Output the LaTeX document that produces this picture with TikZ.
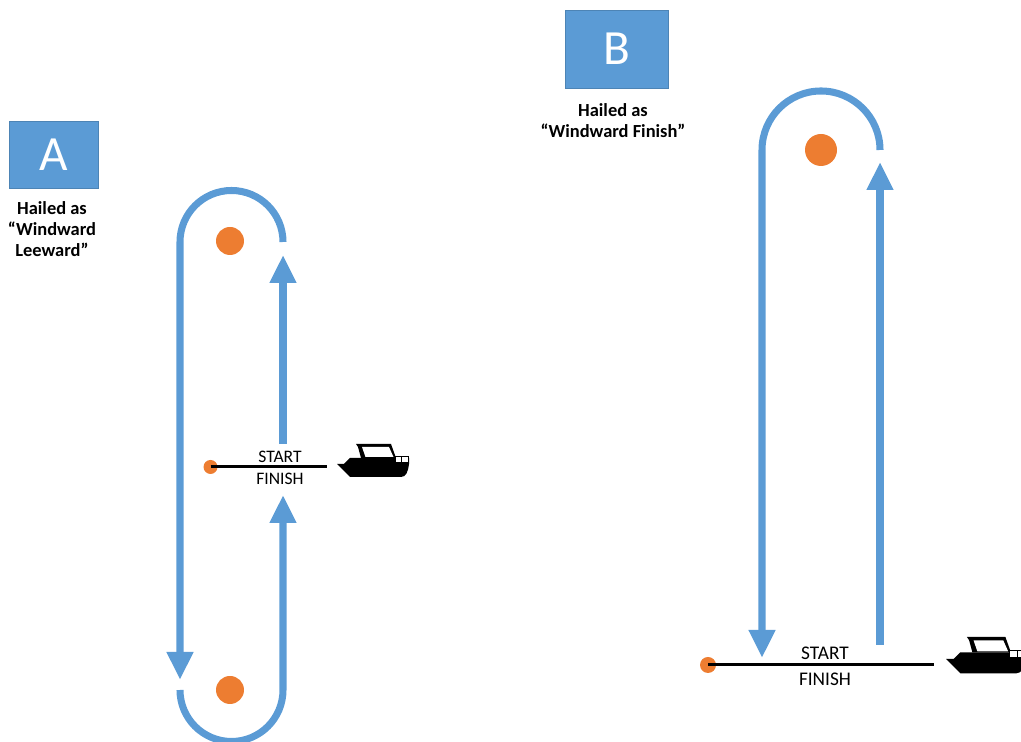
\documentclass[tikz,border=0pt]{standalone}
\usepackage{fontspec}
\setmainfont{Carlito}
\usetikzlibrary{arrows.meta}
\definecolor{course}{HTML}{5B9BD5}
\definecolor{buoy}{HTML}{ED7D31}
\begin{document}
\begin{tikzpicture}[
  x=0.02cm, y=0.02cm,
  tag/.style={fill=course, draw=course!85!black, line width=0.4pt, text=white, inner sep=0pt, font=\fontsize{28}{30}\selectfont},
  hail/.style={align=center, font=\fontsize{10.5}{12}\selectfont\bfseries},
  leg/.style={line width=4pt, draw=course},
  tip/.style={-{Triangle[length=5.6mm, width=5mm]}},
  rnd/.style={circle, fill=buoy, inner sep=0pt, minimum size=5.6mm},
  pin/.style={circle, fill=buoy, inner sep=0pt, minimum size=2.8mm},
  line/.style={line width=1.7pt},
  sf/.style={inner sep=0pt, font=\fontsize{10}{12}\selectfont},
  boat/.pic={
    \fill (0,0) -- (72,0) .. controls (71,-8) and (69,-13) .. (64,-13) -- (13,-13) -- cycle;
    \fill (7,0) -- (13,6) -- (72,6) -- (72,0) -- cycle;
    \fill (19,20) -- (54,20) -- (59,6) -- (24,6) -- (21,17) -- cycle;
    \fill[white] (25,17) -- (52,17) -- (56.5,7) -- (28.5,7) -- cycle;
    \draw[fill=white, line width=0.5pt] (58,1.5) rectangle (64.5,7.5) (64.5,1.5) rectangle (71,7.5);
  }
]
\useasboundingbox (0,0) rectangle (1021,742);

% Course A
\node[tag, minimum width=1.78cm, minimum height=1.34cm] (tA) at (53.5,587.5) {A};
\node[hail] (hA) at (52,513) {Hailed as\\“Windward\\Leeward”};
\node[rnd] (mA1) at (230,501) {};
\node[rnd] (mA2) at (230,52) {};
\coordinate (aTR) at (283,500);
\coordinate (aDn) at (180,62);
\coordinate (aUp1) at (283,298);
\coordinate (aUp1e) at (283,487);
\coordinate (aBL) at (180,52);
\coordinate (aUp2e) at (283,247);
\draw[leg, tip] (aTR) arc[start angle=0, end angle=180, radius=51.5] -- (aDn);
\draw[leg, tip] (aUp1) -- (aUp1e);
\draw[leg, tip] (aBL) arc[start angle=180, end angle=360, radius=51.5] -- (aUp2e);
\node[pin] (pA) at (210.5,275) {};
\coordinate (lA) at (327,275);
\draw[line] (pA.center) -- (lA);
\node[sf] (sA) at (280,285) {START};
\node[sf] (fA) at (280,263) {FINISH};
\pic at (337,278) {boat};

% Course B
\node[tag, minimum width=2.06cm, minimum height=1.56cm] (tB) at (616.5,693) {B};
\node[hail] (hB) at (613,621) {Hailed as\\“Windward Finish”};
\node[rnd, minimum size=6.4mm] (mB) at (821,592) {};
\coordinate (bTR) at (880,592);
\coordinate (bDn) at (762,84);
\coordinate (bUp) at (880,97);
\coordinate (bUpe) at (880,580);
\draw[leg, tip] (bTR) arc[start angle=0, end angle=180, radius=59] -- (bDn);
\draw[leg, tip] (bUp) -- (bUpe);
\node[pin, minimum size=3.2mm] (pB) at (708,77) {};
\coordinate (lB) at (934,77);
\draw[line] (pB.center) -- (lB);
\node[sf, font=\fontsize{11}{13}\selectfont] (sB) at (825,89) {START};
\node[sf, font=\fontsize{11}{13}\selectfont] (fB) at (825,63) {FINISH};
\pic[scale=1.1] at (946,83) {boat};
\end{tikzpicture}
\end{document}
